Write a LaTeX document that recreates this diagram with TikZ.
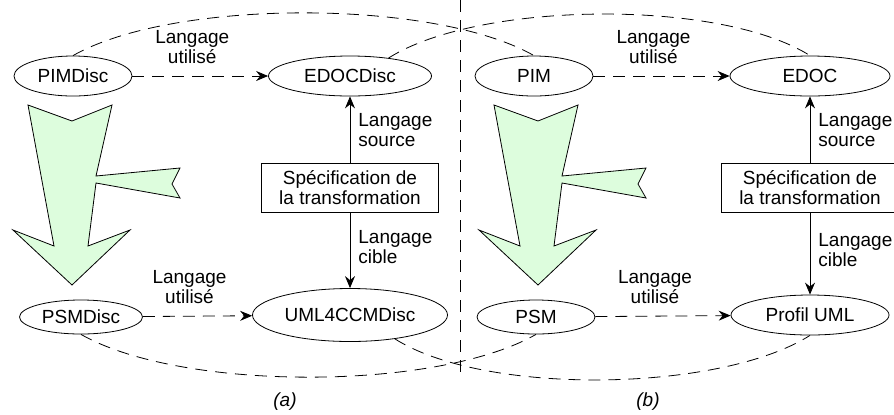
\documentclass[tikz,border=0pt]{standalone}
\usepackage{fontspec}
\setmainfont{Liberation Sans}
\usetikzlibrary{arrows.meta, shapes.geometric}

\definecolor{arrowgreen}{RGB}{221,253,221}

\tikzset{
	model/.style={ellipse, draw, inner sep=1pt, minimum height=20pt},
	spec/.style={rectangle, draw, align=center, minimum width=88.5pt, minimum height=24.5pt, inner sep=2pt},
	uses/.style={dash pattern=on 6pt off 4pt, -{Stealth[length=6pt, width=5pt, inset=2pt]}},
	lang/.style={-{Stealth[length=6pt, width=5pt, inset=2pt]}},
	link/.style={dash pattern=on 6pt off 4pt},
	usedlbl/.style={align=center, inner sep=1pt, above=5pt, xshift=-4pt},
	langlbl/.style={align=left, inner sep=1pt, right=3pt},
	bigarrow/.style={draw, fill=arrowgreen, line join=miter}
}

\begin{document}
\begin{tikzpicture}[x=0.5pt, y=-0.5pt, font=\fontsize{9.5}{10}\selectfont]

		\useasboundingbox (0,0) rectangle (894,414);

		% (a)
		\node [model, minimum width=59pt]		(PIMDisc)			at (73,76)		{PIMDisc};
		\node [model, minimum width=81.5pt]	(EDOCDisc)		at (350,76)		{EDOCDisc};
		\node [model, minimum width=61.5pt, minimum height=17pt]	(PSMDisc)	at (81,317)	{PSMDisc};
		\node [model, minimum width=97.5pt, minimum height=26.5pt]	(UML4CCMDisc)	at (350,315)	{UML4CCMDisc};
		\node [spec]												(specA)				at (350,188)	{Spécification de\\la transformation};

		% (b)
		\node [model, minimum width=59pt]		(PIM)					at (534,76)		{PIM};
		\node [model, minimum width=80pt]		(EDOC)				at (810,76)		{EDOC};
		\node [model, minimum width=59pt, minimum height=17pt]	(PSM)	at (536,317)	{PSM};
		\node [model, minimum width=79pt]		(ProfilUML)		at (810,315)	{Profil UML};
		\node [spec]												(specB)				at (810,188)	{Spécification de\\la transformation};

		\draw [uses]	(PIMDisc) -- node [usedlbl] {Langage\\utilisé} (EDOCDisc);
		\draw [uses]	(PSMDisc) -- node [usedlbl] {Langage\\utilisé} (UML4CCMDisc);
		\draw [uses]	(PIM) -- node [usedlbl] {Langage\\utilisé} (EDOC);
		\draw [uses]	(PSM) -- node [usedlbl] {Langage\\utilisé} (ProfilUML);

		\draw [lang]	(specA) -- node [langlbl] {Langage\\source} (EDOCDisc);
		\draw [lang]	(specA) -- node [langlbl, pos=0.45] {Langage\\cible} (UML4CCMDisc);
		\draw [lang]	(specB) -- node [langlbl] {Langage\\source} (EDOC);
		\draw [lang]	(specB) -- node [langlbl, pos=0.45] {Langage\\cible} (ProfilUML);

		\draw [link]	(PIMDisc.north) .. controls +(100,-57) and +(-100,-57) .. (PIM.north);
		\draw [link]	(EDOCDisc.25) .. controls +(90,-57) and +(-90,-57) .. (EDOC.north);
		\draw [link]	(PSMDisc.south) .. controls +(100,57) and +(-100,57) .. (PSM.south);
		\draw [link]	(UML4CCMDisc.-28) .. controls +(90,57) and +(-90,57) .. (ProfilUML.south);

		\coordinate (sepTop) at (460,0);
		\coordinate (sepBot) at (460,377);
		\draw [link]	(sepTop) -- (sepBot);

		\foreach \dx in {0,466}
			\draw [bigarrow, shift={(\dx,0)}] (28,105) -- (72,121) -- (112,105) -- (96,176) -- (180,168) -- (172,184)
				-- (180,198) -- (96,183) -- (88,246) -- (130,230) -- (72,285) -- (13,230) -- (54,246) -- cycle;

		\node (capA) at (285,402) {\itshape (a)};
		\node (capB) at (648,402) {\itshape (b)};

	\end{tikzpicture}
\end{document}
